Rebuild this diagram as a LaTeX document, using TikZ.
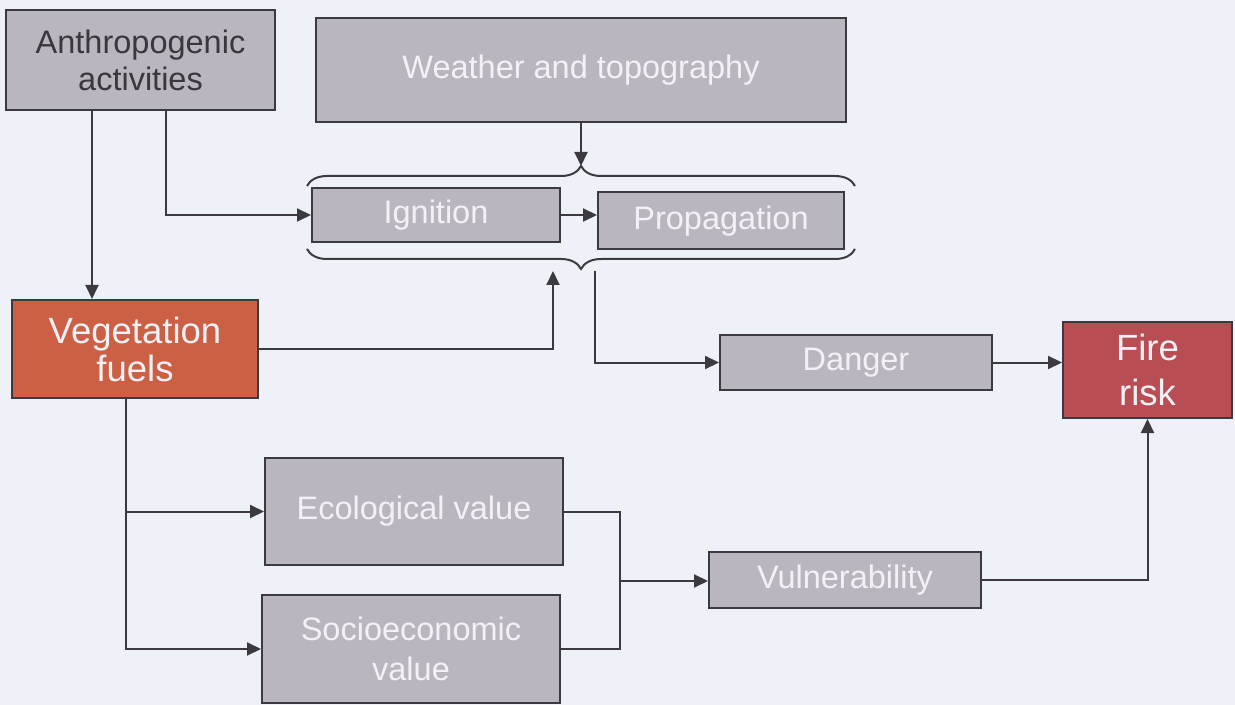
\documentclass[tikz,border=0pt]{standalone}
\usepackage{fontspec}
\setmainfont{Liberation Sans}
\usetikzlibrary{arrows.meta,decorations.pathreplacing}
\definecolor{bg}{HTML}{EEF1F7}
\definecolor{boxgray}{HTML}{B9B6C0}
\definecolor{edge}{HTML}{3C3A3E}
\definecolor{vegfill}{HTML}{CC6045}
\definecolor{firefill}{HTML}{B84E53}
\definecolor{lighttext}{HTML}{F4F1F6}
\definecolor{darktext}{HTML}{3A383C}
\begin{document}
\begin{tikzpicture}[x=0.5pt,y=-0.5pt,
  box/.style={draw=edge, line width=1pt, fill=boxgray, text=lighttext, align=center,
    inner sep=0pt, font=\fontsize{16.25}{18.5}\selectfont},
  bigbox/.style={box, font=\fontsize{18.25}{19}\selectfont},
  arr/.style={draw=edge, line width=1pt, -{Triangle[length=7pt,width=6.5pt]}},
  ln/.style={draw=edge, line width=1pt},
  bracepath/.style={draw=edge, line width=1pt, decorate, decoration={brace, amplitude=10pt}}]
\useasboundingbox (0,0) rectangle (1235,705);
\fill[bg] (0,0) rectangle (1235,705);

% nodes
\node[box, text=darktext, minimum width=134.5pt, minimum height=50pt] (anth) at (140.5,60) {Anthropogenic\\activities};
\node[box, minimum width=265pt, minimum height=52pt] (weather) at (581,70) {Weather and topography};
\node[box, minimum width=124pt, minimum height=27pt] (ign) at (436,215) {Ignition};
\node[box, minimum width=123pt, minimum height=28.5pt] (prop) at (721,221) {Propagation};
\node[bigbox, fill=vegfill, minimum width=123pt, minimum height=49pt] (veg) at (135,349) {Vegetation\\fuels};
\node[box, minimum width=136pt, minimum height=27.5pt] (danger) at (856,362.5) {Danger};
\node[bigbox, fill=firefill, font=\fontsize{18.25}{22.5}\selectfont, minimum width=84.5pt, minimum height=48pt] (fire) at (1147.5,370) {Fire\\risk};
\node[box, minimum width=149pt, minimum height=53.5pt] (eco) at (414,511.5) {Ecological value};
\node[box, font=\fontsize{16.25}{20}\selectfont, minimum width=149pt, minimum height=54pt] (socio) at (411,649) {Socioeconomic\\value};
\node[box, minimum width=136pt, minimum height=28pt] (vuln) at (845,580) {Vulnerability};

% helper coordinates
\coordinate (xa) at (92,0);
\coordinate (xb) at (166,0);
\coordinate (xv) at (126,0);
\coordinate (ttip) at (581,166);
\coordinate (bl) at (553,271);
\coordinate (br) at (595,271);
\coordinate (j) at (620,581);
\coordinate (tbl) at (307,186);
\coordinate (tbr) at (855,186);
\coordinate (bbl) at (307,249);
\coordinate (bbr) at (855,249);

% braces
\draw[bracepath] (tbl) -- (tbr);
\draw[bracepath] (bbr) -- (bbl);

% connectors
\draw[arr] (anth.south -| xa) -- (veg.north -| xa);
\draw[arr] (anth.south -| xb) |- (ign.west);
\draw[arr] (weather.south -| ttip) -- (ttip);
\draw[arr] (ign.east) -- (ign.east -| prop.west);
\draw[arr] (veg.east) -| (bl);
\draw[arr] (br) |- (danger.west);
\draw[arr] (danger.east) -- (danger.east -| fire.west);
\draw[arr] (veg.south -| xv) |- (eco.west);
\draw[arr] (veg.south -| xv) |- (socio.west);
\draw[ln] (eco.east) -| (j);
\draw[ln] (socio.east) -| (j);
\draw[arr] (j) -- (j -| vuln.west);
\draw[arr] (vuln.east) -| (fire.south);
\end{tikzpicture}
\end{document}
